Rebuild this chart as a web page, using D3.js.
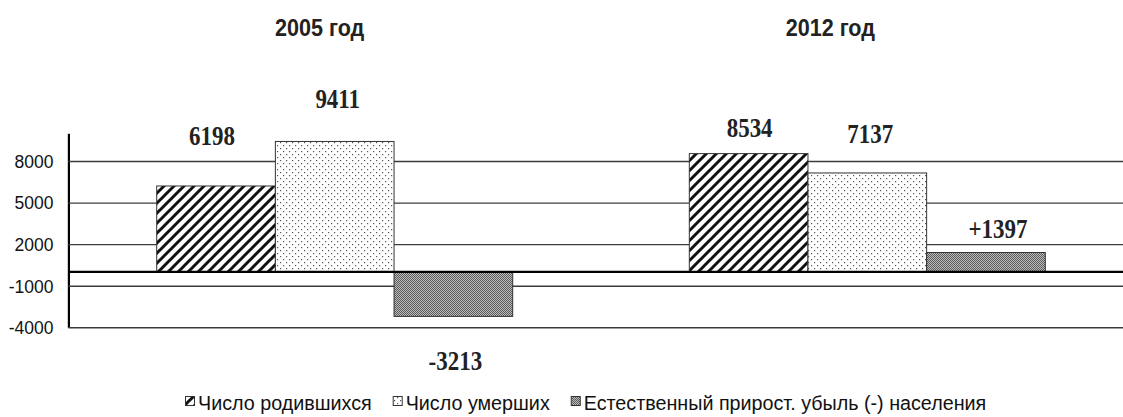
<!DOCTYPE html>
<html>
<head>
<meta charset="utf-8">
<script src="https://cdn.jsdelivr.net/npm/d3@7"></script>
<style>
  body { margin: 0; background: #fff; }
  svg { display: block; }
</style>
</head>
<body>
<div id="chart"></div>
<script>
// data
var groups = ["2005 год", "2012 год"];
var seriesNames = ["Число родившихся", "Число умерших", "Естественный прирост. убыль (-) населения"];
var births = [6198, 8534];
var deaths = [9411, 7137];
var naturalChange = [-3213, 1397];
var yTicks = [-4000, -1000, 2000, 5000, 8000];

// hand placed value labels in the original: [dx, dy] from the bar end
var labelShift = [
  [[-4, -41], [3, -33], [2, 54]],
  [[1, -17], [3, -30], [12, -15]]
];
var titleShift = [-15, -37];

var width = 1123, height = 417;
var svg = d3.select("#chart").append("svg")
  .attr("width", width)
  .attr("height", height);

var defs = svg.append("defs");

// diagonal hatch
var hatch = defs.append("pattern")
  .attr("id", "hatch")
  .attr("patternUnits", "userSpaceOnUse")
  .attr("width", 10).attr("height", 10);
hatch.append("rect").attr("width", 10).attr("height", 10).attr("fill", "#fff");
hatch.append("path")
  .attr("d", "M-2.5,2.5L2.5,-2.5M0,10L10,0M7.5,12.5L12.5,7.5")
  .attr("stroke", "#111")
  .attr("stroke-width", 3);

// dots
var dots = defs.append("pattern")
  .attr("id", "dots")
  .attr("patternUnits", "userSpaceOnUse")
  .attr("width", 6).attr("height", 6);
dots.append("rect").attr("width", 6).attr("height", 6).attr("fill", "#fff");
dots.append("rect").attr("x", 1).attr("y", 1).attr("width", 1.2).attr("height", 1.2).attr("fill", "#555");
dots.append("rect").attr("x", 4).attr("y", 4).attr("width", 1.2).attr("height", 1.2).attr("fill", "#555");

// fine grey checker
var checker = defs.append("pattern")
  .attr("id", "checker")
  .attr("patternUnits", "userSpaceOnUse")
  .attr("width", 2).attr("height", 2);
checker.append("rect").attr("width", 2).attr("height", 2).attr("fill", "#bdbdbd");
checker.append("rect").attr("width", 1).attr("height", 1).attr("fill", "#5a5a5a");
checker.append("rect").attr("x", 1).attr("y", 1).attr("width", 1).attr("height", 1).attr("fill", "#5a5a5a");

var fills = ["url(#hatch)", "url(#dots)", "url(#checker)"];
var series = [births, deaths, naturalChange];

var x0 = d3.scaleBand()
  .domain(groups)
  .range([68.4, 1133.6])
  .paddingInner(0.3316)
  .paddingOuter(0.1658);

var x1 = d3.scaleBand()
  .domain(d3.range(series.length))
  .range([0, x0.bandwidth()]);

var y = d3.scaleLinear()
  .domain([-4000, 10000])
  .range([327.3, 133.3]);

// axis + grid
var axis = svg.append("g")
  .attr("transform", "translate(68.4,0)")
  .call(d3.axisLeft(y)
    .tickValues(yTicks)
    .tickSizeInner(-(width - 68))
    .tickSizeOuter(0)
    .tickPadding(15)
    .tickFormat(function(d) { return String(d); }));

axis.select(".domain").attr("stroke", "#000").attr("stroke-width", 2.2);
axis.selectAll(".tick line").attr("stroke", "#3c3c3c").attr("stroke-width", 1.4);
axis.selectAll(".tick text")
  .attr("font-family", "Liberation Sans, Arial, sans-serif")
  .attr("font-size", 17.5)
  .attr("fill", "#111")
  .attr("dy", "0.36em");

// bars
var rows = [];
groups.forEach(function(g, gi) {
  series.forEach(function(s, si) {
    rows.push({group: g, gi: gi, si: si, value: s[gi]});
  });
});

svg.append("g").selectAll("rect")
  .data(rows)
  .join("rect")
  .attr("x", function(d) { return x0(d.group) + x1(d.si); })
  .attr("y", function(d) { return y(Math.max(0, d.value)); })
  .attr("width", x1.bandwidth())
  .attr("height", function(d) { return Math.abs(y(d.value) - y(0)); })
  .attr("fill", function(d) { return fills[d.si]; })
  .attr("stroke", "#333")
  .attr("stroke-width", 1);

// zero line
svg.append("line")
  .attr("x1", 68.4).attr("x2", width)
  .attr("y1", y(0)).attr("y2", y(0))
  .attr("stroke", "#000")
  .attr("stroke-width", 2.4);

// value labels
function fmt(d) {
  if (d.si == 2 && d.value > 0) return "+" + d.value;
  return String(d.value);
}

svg.append("g").selectAll("text")
  .data(rows)
  .join("text")
  .attr("transform", function(d) {
    var sh = labelShift[d.gi][d.si];
    var cx = x0(d.group) + x1(d.si) + x1.bandwidth() / 2 + sh[0];
    var cy = y(d.value) + sh[1];
    return "translate(" + cx + "," + cy + ") scale(0.85,1)";
  })
  .attr("text-anchor", "middle")
  .attr("font-family", "Liberation Serif, Times New Roman, serif")
  .attr("font-weight", "bold")
  .attr("font-size", 27)
  .attr("fill", "#222")
  .text(fmt);

// group titles
svg.append("g").selectAll("text")
  .data(groups)
  .join("text")
  .attr("transform", function(d, i) {
    return "translate(" + (x0(d) + x0.bandwidth() / 2 + titleShift[i]) + ",36) scale(0.88,1)";
  })
  .attr("text-anchor", "middle")
  .attr("font-family", "Liberation Sans, Arial, sans-serif")
  .attr("font-weight", "bold")
  .attr("font-size", 24.5)
  .attr("fill", "#222")
  .text(function(d) { return d; });

// legend
var legend = svg.append("g");
var lx = 185, ly = 410, squeeze = 0.94;
seriesNames.forEach(function(name, i) {
  legend.append("rect")
    .attr("x", lx + 0.5).attr("y", ly - 13.5)
    .attr("width", 9).attr("height", 9)
    .attr("fill", fills[i])
    .attr("stroke", "#333")
    .attr("stroke-width", 1);
  var t = legend.append("text")
    .attr("transform", "translate(" + (lx + 13) + "," + ly + ") scale(" + squeeze + ",1)")
    .attr("font-family", "Liberation Sans, Arial, sans-serif")
    .attr("font-size", 21)
    .attr("fill", "#111")
    .text(name);
  lx = lx + 13 + t.node().getComputedTextLength() * squeeze + 21;
});
</script>
</body>
</html>
